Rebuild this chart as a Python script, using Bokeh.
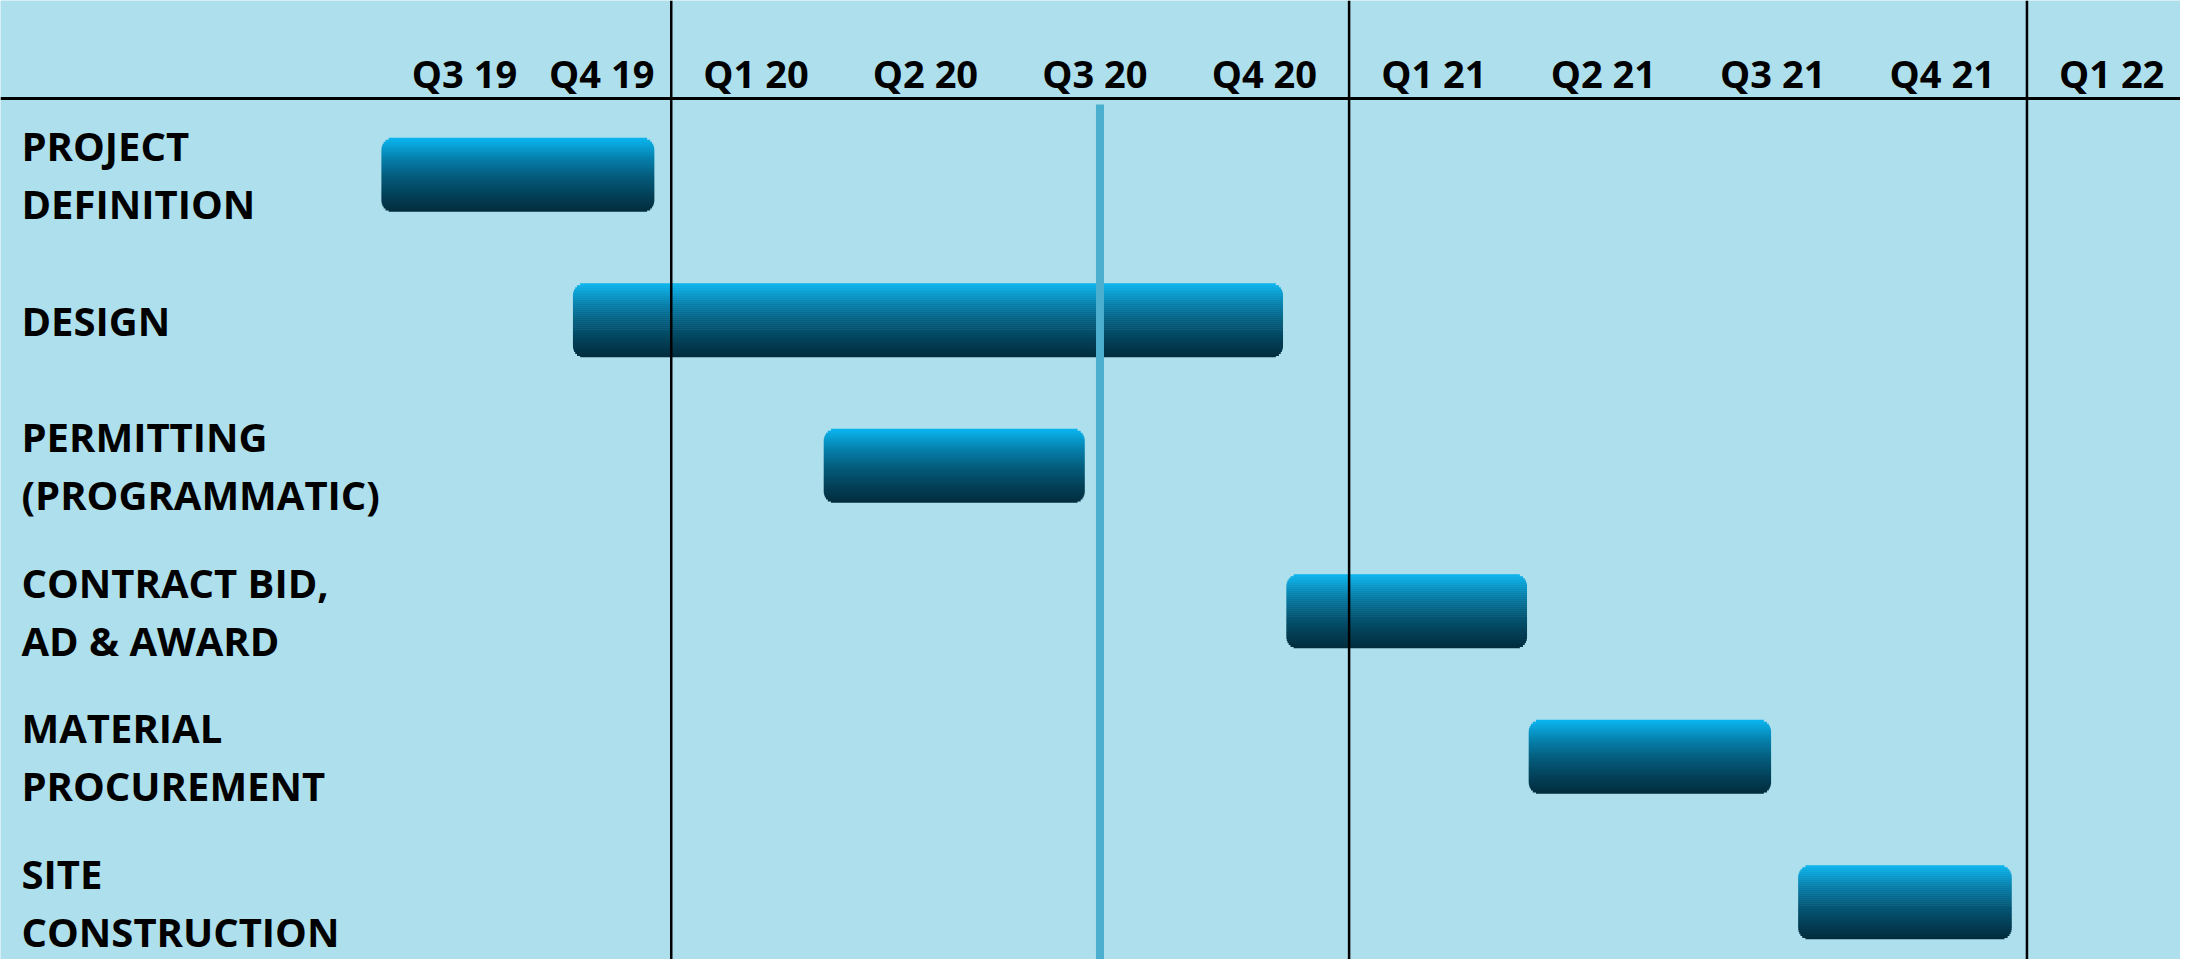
from bokeh.plotting import figure
from bokeh.models import Range1d, Span, ColumnDataSource
from bokeh.core.properties import value
from bokeh.embed import file_html
from bokeh.resources import INLINE
import math

# ---------------- data ----------------
tasks = ["PROJECT\nDEFINITION", "DESIGN", "PERMITTING\n(PROGRAMMATIC)",
         "CONTRACT BID,\nAD & AWARD", "MATERIAL\nPROCUREMENT", "SITE\nCONSTRUCTION"]
# bar extents in quarters, measured from the start of Q1 2020
start_q = [-1.71, -0.58, 0.90, 3.63, 5.06, 6.65]
end_q = [-0.10, 3.61, 2.44, 5.05, 6.49, 7.91]
quarter_labels = ["Q3 19", "Q4 19", "Q1 20", "Q2 20", "Q3 20", "Q4 20",
                  "Q1 21", "Q2 21", "Q3 21", "Q4 21", "Q1 22"]
quarter_centers = [-1.22, -0.41, 0.5, 1.5, 2.5, 3.5, 4.5, 5.5, 6.5, 7.5, 8.5]
year_starts = [0, 4, 8]
today_q = 2.53

# ---------------- layout ----------------
W, H = 2180, 959
X0, X1 = -3.958, 8.906
Y_TOP, Y_BOT = -1.197, 5.394
px_x = W / (X1 - X0)          # pixels per quarter
px_y = H / (Y_BOT - Y_TOP)    # pixels per row
BG = "#ADDFEC"
FONT = value("Open Sans")

p = figure(width=W, height=H, x_range=Range1d(X0, X1), y_range=Range1d(Y_BOT, Y_TOP),
           x_axis_type=None, y_axis_type=None, toolbar_location=None,
           output_backend="svg", min_border=0, outline_line_color=None,
           background_fill_color=BG, border_fill_color=BG)
p.grid.visible = False

rows = list(range(len(tasks)))

# ---------------- gradient bars (built from horizontal strips) ----------------
BAR_H = 0.509            # rows
RAD = 12.0               # corner radius, px
NSTRIP = 37
stops = [(0.0, (11, 182, 240)), (0.28, (6, 128, 172)), (0.52, (4, 92, 124)),
         (0.78, (3, 64, 88)), (1.0, (2, 44, 60))]


def grad(t):
    for (t0, c0), (t1, c1) in zip(stops[:-1], stops[1:]):
        if t <= t1:
            f = (t - t0) / (t1 - t0)
            return "#%02x%02x%02x" % tuple(int(round(a + (b - a) * f)) for a, b in zip(c0, c1))
    return "#%02x%02x%02x" % stops[-1][1]


def inset(d):
    if d >= RAD:
        return 0.0
    return RAD - math.sqrt(max(RAD * RAD - (RAD - d) ** 2, 0.0))


bar_px = BAR_H * px_y
sh = bar_px / NSTRIP
L, R, T, B, C = [], [], [], [], []
for r, s, e in zip(rows, start_q, end_q):
    top_row = r - BAR_H / 2
    for k in range(NSTRIP):
        d0 = k * sh
        d1 = min((k + 1) * sh + 0.7, bar_px)
        mid = (d0 + min((k + 1) * sh, bar_px)) / 2
        ins = max(inset(mid), inset(bar_px - mid)) / px_x
        L.append(s + ins)
        R.append(e - ins)
        T.append(top_row + d0 / px_y)
        B.append(top_row + d1 / px_y)
        C.append(grad((k + 0.5) / NSTRIP))

p.quad(left="l", right="r", top="t", bottom="b", fill_color="c", line_color=None,
       source=ColumnDataSource(dict(l=L, r=R, t=T, b=B, c=C)))

# ---------------- grid lines ----------------
for q in year_starts:
    p.add_layout(Span(location=q, dimension="height", line_color="black", line_width=2.5))
p.add_layout(Span(location=-0.524, dimension="width", line_color="black", line_width=3))

# today line
p.segment(x0=[today_q], y0=[-0.482], x1=[today_q], y1=[Y_BOT], line_color="#4BAFD0",
          line_width=8, line_cap="butt")

# ---------------- texts ----------------
p.text(x=quarter_centers, y=[-0.696] * len(quarter_centers), text=quarter_labels,
       text_font=FONT, text_font_style="bold", text_font_size="38px",
       text_align="center", text_baseline="middle", text_color="black")

p.text(x=[X0] * len(tasks), y=rows, text=tasks, x_offset=21,
       text_font=FONT, text_font_style="bold", text_font_size="40px",
       text_align="left", text_baseline="middle", text_color="black",
       text_line_height=1.05)

open("out.html", "w").write(file_html(p, INLINE))
